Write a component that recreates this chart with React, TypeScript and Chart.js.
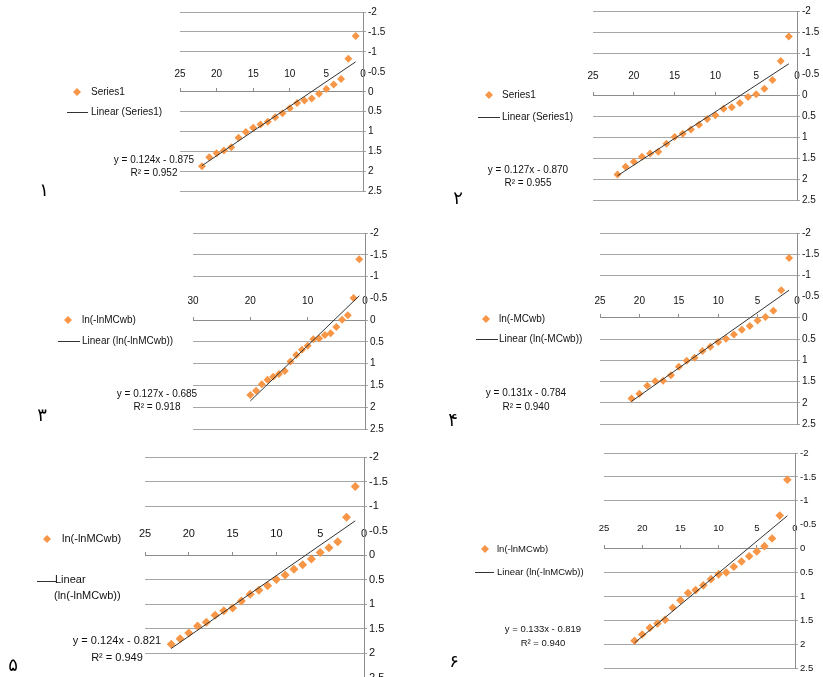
import React, { useEffect, useRef } from "react";
import { Chart, registerables } from "chart.js";

Chart.register(...registerables);

// ---------- data ----------
const ranks22 = [1, 2, 3, 4, 5, 6, 7, 8, 9, 10, 11, 12, 13, 14, 15, 16, 17, 18, 19, 20, 21, 22];
const ranks21 = [1, 2, 3, 4, 5, 6, 7, 8, 9, 10, 11, 12, 13, 14, 15, 16, 17, 18, 19, 20, 21];
const ranks20 = [1, 2, 3, 4, 5, 6, 7, 8, 9, 10, 11, 12, 13, 14, 15, 16, 17, 18, 19, 20];

const panel1Y = [-1.4, -0.83, -0.32, -0.18, -0.07, 0.05, 0.17, 0.22, 0.28, 0.41, 0.54, 0.64, 0.75, 0.82, 0.9, 1.01, 1.15, 1.39, 1.47, 1.54, 1.64, 1.87];
const panel2Y = [-1.39, -0.81, -0.36, -0.15, -0.02, 0.05, 0.19, 0.29, 0.33, 0.48, 0.57, 0.71, 0.82, 0.92, 1.0, 1.16, 1.35, 1.39, 1.47, 1.59, 1.71, 1.89];
const panel3Y = [-1.4, -0.51, -0.11, -0.01, 0.16, 0.3, 0.34, 0.42, 0.44, 0.59, 0.68, 0.8, 0.95, 1.17, 1.24, 1.3, 1.37, 1.47, 1.62, 1.72];
const panel4Y = [-1.41, -0.65, -0.17, -0.02, 0.06, 0.19, 0.28, 0.39, 0.49, 0.57, 0.68, 0.78, 0.94, 1.01, 1.15, 1.35, 1.48, 1.49, 1.6, 1.79, 1.9];
const panel5Y = [-1.4, -0.77, -0.27, -0.15, -0.05, 0.08, 0.2, 0.29, 0.41, 0.5, 0.63, 0.72, 0.8, 0.94, 1.08, 1.14, 1.23, 1.37, 1.45, 1.59, 1.71, 1.82];
const panel6Y = [-1.44, -0.69, -0.21, -0.05, 0.06, 0.16, 0.27, 0.38, 0.5, 0.54, 0.64, 0.77, 0.87, 0.93, 1.08, 1.24, 1.49, 1.57, 1.66, 1.8, 1.93];

const seriesX = [ranks22, ranks22, ranks20, ranks21, ranks22, ranks21];
const seriesY = [panel1Y, panel2Y, panel3Y, panel4Y, panel5Y, panel6Y];

const trendSlopes = [0.124, 0.127, 0.127, 0.131, 0.124, 0.133];
const trendIntercepts = [-0.875, -0.87, -0.685, -0.784, -0.821, -0.819];
const equationLabels = [
  "y = 0.124x - 0.875",
  "y = 0.127x - 0.870",
  "y = 0.127x - 0.685",
  "y = 0.131x - 0.784",
  "y = 0.124x - 0.821",
  "y = 0.133x - 0.819",
];
const r2Labels = ["R² = 0.952", "R² = 0.955", "R² = 0.918", "R² = 0.940", "R² = 0.949", "R² = 0.940"];
const seriesNames = ["Series1", "Series1", "ln(-lnMCwb)", "ln(-MCwb)", "ln(-lnMCwb)", "ln(-lnMCwb)"];
const trendNames = [
  "Linear (Series1)",
  "Linear (Series1)",
  "Linear (ln(-lnMCwb))",
  "Linear (ln(-MCwb))",
  "Linear (ln(-lnMCwb))",
  "Linear (ln(-lnMCwb))",
];
const panelNumbers = ["۱", "۲", "۳", "۴", "۵", "۶"];

const xMaxes = [25, 25, 30, 25, 25, 25];
const xTicks25 = [0, 5, 10, 15, 20, 25];
const xTicks30 = [0, 10, 20, 30];
const panelXTicks = [xTicks25, xTicks25, xTicks30, xTicks25, xTicks25, xTicks25];
const yTicks = [-2, -1.5, -1, -0.5, 0, 0.5, 1, 1.5, 2, 2.5];

// ---------- layout (page coordinates) ----------
const YW = 26;
const LAYOUT = [
  { box: { x: 0, y: 0, w: 411, h: 220 }, area: { l: 180, r: 363, t: 12, b: 191.5 }, fs: 10, rise: 18, pr: 4,
    mk: { x: 77, y: 92 }, ln: { x1: 67, x2: 88, y: 112 }, tx: 91, wrap: null,
    eq: { x: 154, y: 160.7, y2: 173.3 }, num: { x: 44, y: 191 } },
  { box: { x: 411, y: 0, w: 412, h: 220 }, area: { l: 593, r: 797, t: 11, b: 200 }, fs: 10, rise: 18.7, pr: 4,
    mk: { x: 489, y: 95 }, ln: { x1: 478, x2: 500, y: 117 }, tx: 502, wrap: null,
    eq: { x: 528, y: 170, y2: 183.3 }, num: { x: 458, y: 199 } },
  { box: { x: 0, y: 220, w: 411, h: 225 }, area: { l: 193, r: 365, t: 233, b: 429 }, fs: 10, rise: 18.6, pr: 4,
    mk: { x: 68, y: 320 }, ln: { x1: 58, x2: 80, y: 341 }, tx: 82, wrap: null,
    eq: { x: 157, y: 394, y2: 407.3 }, num: { x: 42, y: 416 } },
  { box: { x: 411, y: 220, w: 412, h: 225 }, area: { l: 600, r: 797, t: 233, b: 424 }, fs: 10, rise: 17, pr: 4,
    mk: { x: 486, y: 319 }, ln: { x1: 476, x2: 498, y: 339 }, tx: 499, wrap: null,
    eq: { x: 526, y: 393.3, y2: 407.7 }, num: { x: 453, y: 421 } },
  { box: { x: 0, y: 445, w: 411, h: 245 }, area: { l: 145, r: 364, t: 457, b: 677.5 }, fs: 11, rise: 21, pr: 4.5,
    mk: { x: 47, y: 539 }, ln: { x1: 37, x2: 56, y: 581 }, tx: 62,
    wrap: [{ x: 55, y: 580 }, { x: 54, y: 596 }],
    eq: { x: 117, y: 641, y2: 657.7 }, num: { x: 13, y: 666 } },
  { box: { x: 411, y: 445, w: 412, h: 232 }, area: { l: 604, r: 795, t: 453, b: 668 }, fs: 9.5, rise: 20, pr: 4.3,
    mk: { x: 485, y: 549 }, ln: { x1: 475, x2: 494, y: 572 }, tx: 497, wrap: null,
    eq: { x: 543, y: 629, y2: 643.3 }, num: { x: 454, y: 662 } },
];

const FONT = '"Liberation Sans", Arial, sans-serif';
const ORANGE = "#F79646";
const TEXT = "#111111";

function makeOverlay(i: number) {
  const L = LAYOUT[i];
  return {
    id: "overlay" + i,
    afterDraw(chart: any) {
      const ctx = chart.ctx as CanvasRenderingContext2D;
      const ox = L.box.x;
      const oy = L.box.y;
      ctx.save();
      ctx.font = `${L.fs}px ${FONT}`;
      ctx.textBaseline = "middle";
      ctx.textAlign = "left";
      // legend marker
      const mx = L.mk.x - ox;
      const my = L.mk.y - oy;
      const r = 4;
      ctx.beginPath();
      ctx.moveTo(mx, my - r);
      ctx.lineTo(mx + r, my);
      ctx.lineTo(mx, my + r);
      ctx.lineTo(mx - r, my);
      ctx.closePath();
      ctx.fillStyle = ORANGE;
      ctx.fill();
      ctx.fillStyle = TEXT;
      ctx.fillText(seriesNames[i], L.tx - ox, my);
      // legend line
      ctx.strokeStyle = "#333333";
      ctx.lineWidth = 1;
      ctx.beginPath();
      ctx.moveTo(L.ln.x1 - ox, Math.round(L.ln.y - oy) + 0.5);
      ctx.lineTo(L.ln.x2 - ox, Math.round(L.ln.y - oy) + 0.5);
      ctx.stroke();
      if (L.wrap) {
        const idx = trendNames[i].indexOf(" ");
        const parts = [trendNames[i].slice(0, idx), trendNames[i].slice(idx + 1)];
        parts.forEach((t, k) => ctx.fillText(t, L.wrap![k].x - ox, L.wrap![k].y - oy));
      } else {
        ctx.fillText(trendNames[i], L.tx - ox, L.ln.y - oy);
      }
      // trendline equation
      ctx.textAlign = "center";
      ctx.fillText(equationLabels[i], L.eq.x - ox, L.eq.y - oy);
      ctx.fillText(r2Labels[i], L.eq.x - ox, L.eq.y2 - oy);
      // panel number
      ctx.font = `18px "DejaVu Sans", sans-serif`;
      ctx.fillStyle = "#000000";
      ctx.fillText(panelNumbers[i], L.num.x - ox, L.num.y - oy);
      ctx.restore();
    },
  };
}

function buildChart(canvas: HTMLCanvasElement, i: number) {
  const L = LAYOUT[i];
  const xs = seriesX[i];
  const ys = seriesY[i];
  const x0 = xs[0];
  const x1 = xs[xs.length - 1];
  const fs = L.fs;
  return new Chart(canvas, {
    type: "scatter",
    data: {
      datasets: [
        {
          type: "line",
          label: trendNames[i],
          data: [
            { x: x0, y: trendSlopes[i] * x0 + trendIntercepts[i] },
            { x: x1, y: trendSlopes[i] * x1 + trendIntercepts[i] },
          ],
          borderColor: "#333333",
          borderWidth: 1,
          pointRadius: 0,
          fill: false,
          showLine: true,
          order: 0,
        } as any,
        {
          label: seriesNames[i],
          data: xs.map((x, k) => ({ x, y: ys[k] })),
          pointStyle: "rectRot",
          pointRadius: L.pr,
          backgroundColor: ORANGE,
          borderColor: ORANGE,
          borderWidth: 0,
          order: 1,
        },
      ],
    },
    options: {
      responsive: false,
      animation: false,
      events: [],
      layout: {
        padding: {
          left: L.area.l - L.box.x,
          top: L.area.t - L.box.y,
          right: L.box.w - (L.area.r - L.box.x) - YW,
          bottom: L.box.y + L.box.h - L.area.b,
        },
      },
      plugins: { legend: { display: false }, tooltip: { enabled: false } },
      scales: {
        x: {
          type: "linear",
          position: { y: 0 } as any,
          reverse: true,
          min: 0,
          max: xMaxes[i],
          afterBuildTicks: (s: any) => {
            s.ticks = panelXTicks[i].map((v) => ({ value: v }));
          },
          afterFit: (s: any) => {
            s.height = 0;
            s.paddingLeft = 0;
            s.paddingRight = 0;
            s.paddingTop = 0;
            s.paddingBottom = 0;
          },
          grid: { drawOnChartArea: false, drawTicks: true, tickLength: -4, color: "#8c8c8c" },
          border: { display: true, color: "#8c8c8c", width: 1 },
          ticks: {
            padding: -L.rise + 4 - 0.6 * fs,
            font: { size: fs, family: FONT },
            color: TEXT,
            maxRotation: 0,
            autoSkip: false,
            callback: (v: any) => String(v),
          },
        },
        y: {
          type: "linear",
          position: "right",
          reverse: true,
          min: -2,
          max: 2.5,
          afterBuildTicks: (s: any) => {
            s.ticks = yTicks.map((v) => ({ value: v }));
          },
          afterFit: (s: any) => {
            s.width = YW;
            s.paddingTop = 0;
            s.paddingBottom = 0;
          },
          grid: {
            color: (c: any) => (c.tick && c.tick.value === -0.5 ? "rgba(0,0,0,0)" : "#a6a6a6"),
            tickLength: 3,
          },
          border: { color: "#8c8c8c" },
          ticks: {
            padding: 2,
            font: { size: fs, family: FONT },
            color: TEXT,
            callback: (v: any) => String(v),
          },
        },
      },
    } as any,
    plugins: [makeOverlay(i)],
  });
}

export default function App() {
  const refs = useRef<(HTMLCanvasElement | null)[]>([]);
  useEffect(() => {
    const charts = LAYOUT.map((_, i) => buildChart(refs.current[i]!, i));
    return () => charts.forEach((c) => c.destroy());
  }, []);
  return (
    <div style={{ position: "absolute", left: 0, top: 0, width: 823, height: 677, background: "#fff", overflow: "hidden" }}>
      {LAYOUT.map((L, i) => (
        <canvas
          key={i}
          ref={(el) => {
            refs.current[i] = el;
          }}
          width={L.box.w}
          height={L.box.h}
          style={{ position: "absolute", left: L.box.x, top: L.box.y, width: L.box.w, height: L.box.h }}
        />
      ))}
    </div>
  );
}
